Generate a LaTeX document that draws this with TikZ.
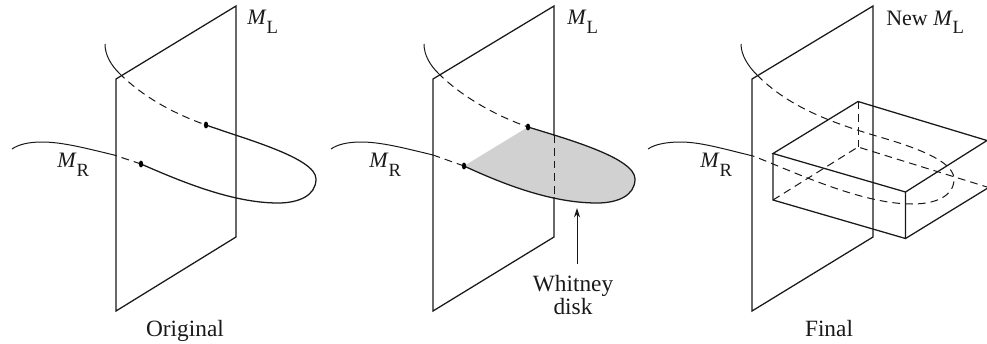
\documentclass[tikz,border=0pt]{standalone}
\usepackage{fontspec}
\setmainfont{Liberation Serif}
\usetikzlibrary{arrows.meta}
\tikzset{
  line/.style={draw=black!90,line width=0.95pt,line join=miter},
  thin line/.style={draw=black!90,line width=0.75pt},
  hidden/.style={draw=black!90,line width=0.75pt,dash pattern=on 5.8pt off 3.8pt},
  lab/.style={inner sep=0pt,font=\fontsize{16.5}{18}\selectfont,text=black!90},
  caption/.style={inner sep=0pt,font=\fontsize{17.5}{17}\selectfont,align=center,text=black!90},
}
\newcommand{\MS}[1]{\textit{M}\raisebox{-6.7pt}{\fontsize{14}{15}\selectfont #1}}
\begin{document}
\begin{tikzpicture}[x=0.75pt,y=-0.75pt]
\useasboundingbox (0,0) rectangle (987,343);
% ---------- Panel 1
\draw[line] (116,79) -- (236,6) -- (236,237) -- (116,311) -- cycle;
\draw[thin line] (105,44) .. controls (105,55) and (111,65) .. (119,73);
\draw[hidden] (119,73) .. controls (142,96) and (172,113) .. (206,125);
\draw[line] (206,125) .. controls (245,139) and (316,158) .. (316,179)
  .. controls (316,196) and (298,203) .. (278,203)
  .. controls (232,203) and (180,181) .. (141,164);
\draw[hidden] (141,164) -- (114,155);
\draw[thin line] (114,155) .. controls (85,148) and (62,142) .. (42,142) .. controls (30,142) and (19,144) .. (12,149);
\fill (206,125) ellipse (1.6pt and 2.6pt);
\fill (141,164) ellipse (1.6pt and 2.6pt);
\node[lab,anchor=base west] (ml1) at (247,24.5) {\MS{L}};
\node[lab,anchor=base west] (mr1) at (57,167.5) {\MS{R}};
\node[caption,anchor=base] (c1) at (185,336) {Original};
% ---------- Panel 2
\fill[black!18] (528,127) .. controls (567,139) and (635,158) .. (635,179)
  .. controls (635,196) and (617,203) .. (597,203)
  .. controls (551,203) and (503,184) .. (464,166) -- cycle;
\draw[line] (433,79) -- (554,6) -- (554,237) -- (433,311) -- cycle;
\fill[black!18] (552,136) rectangle (556,197);
\draw[hidden] (554,135) -- (554,198);
\draw[thin line] (424,44) .. controls (424,55) and (430,65) .. (438,73);
\draw[hidden] (438,73) .. controls (461,96) and (494,115) .. (528,127);
\draw[line] (528,127) .. controls (567,139) and (635,158) .. (635,179)
  .. controls (635,196) and (617,203) .. (597,203)
  .. controls (551,203) and (503,184) .. (464,166);
\draw[hidden] (464,166) -- (433,155);
\draw[thin line] (433,155) .. controls (404,148) and (381,142) .. (361,142) .. controls (349,142) and (338,144) .. (331,149);
\fill (528,127) ellipse (1.6pt and 2.6pt);
\fill (464,166) ellipse (1.6pt and 2.6pt);
\node[lab,anchor=base west] (ml2) at (567,24.5) {\MS{L}};
\node[lab,anchor=base west] (mr2) at (369,167.5) {\MS{R}};
\node[caption,anchor=base] (c2) at (573,314) {Whitney\\disk};
\coordinate (wtip) at (577,208);
\coordinate (wtail) at (577,264);
\draw[thin line,-{Stealth[length=7pt,width=4.5pt]}] (wtail) -- (wtip);
% ---------- Panel 3
\draw[line] (752,79) -- (873,6) -- (873,237) -- (752,311) -- cycle;
\draw[thin line] (741,44) .. controls (741,55) and (748,66) .. (757,75);
\draw[hidden] (757,75) .. controls (785,103) and (820,119) .. (873,135)
  .. controls (900,143) and (954,158) .. (954,179)
  .. controls (954,196) and (936,204) .. (912,204)
  .. controls (860,204) and (790,170) .. (753,156);
\draw[thin line] (753,156) .. controls (720,148) and (700,142) .. (680,142) .. controls (668,142) and (655,144) .. (648,149);
% box
\draw[line] (773,153.5) -- (858,101.5) -- (987,140.5) -- (905.5,192) -- cycle;
\draw[line] (773,153.5) -- (773,200) -- (905.5,238.5) -- (905.5,192);
\draw[line] (905.5,238.5) -- (987,188.5);
\draw[hidden] (773,200) -- (858,147) -- (987,187);
\draw[hidden] (858,101.5) -- (858,147);
\node[lab,anchor=base west] (ml3) at (886,25) {New \MS{L}};
\node[lab,anchor=base west] (mr3) at (700,167.5) {\MS{R}};
\node[caption,anchor=base] (c3) at (829,336) {Final};
\end{tikzpicture}
\end{document}
